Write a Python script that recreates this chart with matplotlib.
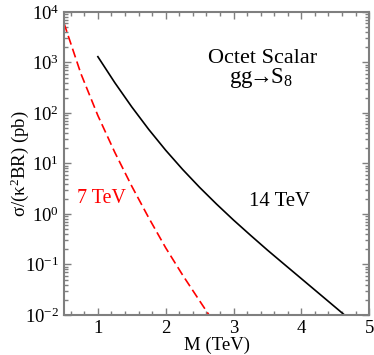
import matplotlib
matplotlib.use("Agg")
import matplotlib.pyplot as plt
from matplotlib.ticker import LogLocator, MultipleLocator, NullFormatter

plt.rcParams['font.family'] = ['Liberation Serif', 'DejaVu Serif']
plt.rcParams['mathtext.fontset'] = 'custom'
plt.rcParams['mathtext.rm'] = 'Liberation Serif'
plt.rcParams['mathtext.it'] = 'Liberation Serif:italic'

# cross sections (pb)
m7 = [0.5, 0.75, 1.0, 1.25, 1.5, 1.75, 2.0, 2.25, 2.5, 2.65]
xs7 = [6030, 600, 89, 16.6, 3.55, 0.84, 0.214, 0.0617, 0.0191, 0.0095]

m14 = [1.0, 1.25, 1.5, 1.75, 2.0, 2.25, 2.5, 2.75, 3.0, 3.25, 3.5, 3.75, 4.0, 4.25, 4.5, 4.65]
xs14 = [1303, 398, 132, 47.3, 18.3, 7.62, 3.37, 1.57, 0.759, 0.380, 0.193, 0.1005,
        0.0525, 0.0274, 0.0143, 0.00966]

fig = plt.figure(figsize=(3.74, 3.55), dpi=100)
ax = fig.add_axes([0.171, 0.1127, 0.816, 0.8535])

ax.plot(m7, xs7, color='red', lw=1.2, dashes=(5.5, 2.6))
ax.plot(m14, xs14, color='black', lw=1.2)

ax.set_yscale('log')
ax.set_xlim(0.5, 5)
ax.set_ylim(1e-2, 1e4)

ax.xaxis.set_major_locator(MultipleLocator(1))
ax.xaxis.set_minor_locator(MultipleLocator(0.2))
ax.yaxis.set_major_locator(LogLocator(base=10, numticks=10))
ax.yaxis.set_minor_locator(LogLocator(base=10, subs=range(2, 10), numticks=10))
ax.yaxis.set_minor_formatter(NullFormatter())

for s in ax.spines.values():
    s.set_color('#7f7f7f')
    s.set_linewidth(1.5)
ax.tick_params(which='both', direction='in', top=True, right=True, color='#7f7f7f',
               labelsize=13.5, width=1.0)
ax.tick_params(which='major', length=5)
ax.tick_params(which='minor', length=3)

ax.set_xlabel('M (TeV)', fontsize=13.5, labelpad=0)
ax.set_ylabel('σ/(κ$^2$BR) (pb)', fontsize=13.5, labelpad=-4)

labels = [
    ax.text(0.652, 0.833, 'Octet Scalar', transform=ax.transAxes, fontsize=15, ha='center'),
    ax.text(0.645, 0.766, r'gg$\!\!\rightarrow\!\!$S$_8$', transform=ax.transAxes, fontsize=15, ha='center'),
    ax.text(0.707, 0.36, '14 TeV', transform=ax.transAxes, fontsize=14.5, ha='center'),
    ax.text(0.123, 0.37, '7 TeV', transform=ax.transAxes, fontsize=14, ha='center', color='red'),
]
widths = [110, 64, 61, 49]  # pixel widths seen in the reference

# fit text sizes to the widths in the reference
r = fig.canvas.get_renderer()
for t, w in zip(labels, widths):
    cur = t.get_window_extent(r).width
    t.set_fontsize(t.get_fontsize() * w / cur)

fig.savefig('out.png', dpi=100)
